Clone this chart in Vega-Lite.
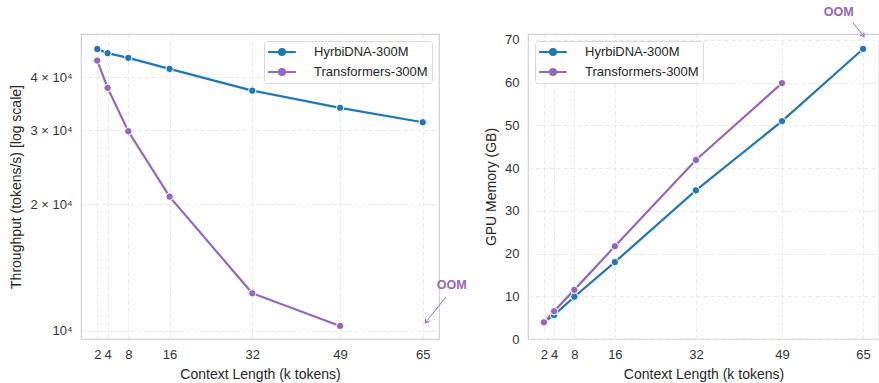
{
  "$schema": "https://vega.github.io/schema/vega-lite/v6.json",
  "background": "white",
  "padding": {"left": 9, "top": 5, "right": 0, "bottom": 4},
  "config": {
    "font": "Liberation Sans",
    "view": {"stroke": "#d0d0d0", "strokeWidth": 1.2},
    "axis": {
      "grid": true, "gridDash": [4, 3], "gridColor": "#e8e8e8", "gridWidth": 0.9,
      "ticks": false, "domain": false,
      "labelFontSize": 13, "labelColor": "#333333", "labelPadding": 9,
      "titleFontSize": 14, "titleFontWeight": "normal", "titleColor": "#262626", "titlePadding": 6
    },
    "legend": {
      "title": null, "offset": 7, "padding": 4, "strokeColor": "#d9d9d9", "fillColor": "white",
      "cornerRadius": 3, "labelFontSize": 13, "labelColor": "#262626", "rowPadding": 6,
      "labelOffset": 25, "symbolOffset": 7,
      "symbolType": "M-2.3,0H2.3M0.5,0A0.5,0.5,0,1,1,-0.5,0A0.5,0.5,0,1,1,0.5,0",
      "symbolSize": 144, "symbolStrokeWidth": 2
    }
  },
  "datasets": {
    "perf": [
      {"model": "HyrbiDNA-300M", "ctx": 2, "throughput": 46700, "memory": 4.0},
      {"model": "HyrbiDNA-300M", "ctx": 4, "throughput": 45660, "memory": 5.6},
      {"model": "HyrbiDNA-300M", "ctx": 8, "throughput": 44500, "memory": 9.9},
      {"model": "HyrbiDNA-300M", "ctx": 16, "throughput": 41900, "memory": 18.0},
      {"model": "HyrbiDNA-300M", "ctx": 32, "throughput": 37200, "memory": 34.8},
      {"model": "HyrbiDNA-300M", "ctx": 49, "throughput": 33870, "memory": 51.0},
      {"model": "HyrbiDNA-300M", "ctx": 65, "throughput": 31300, "memory": 67.9},
      {"model": "Transformers-300M", "ctx": 2, "throughput": 43850, "memory": 3.9},
      {"model": "Transformers-300M", "ctx": 4, "throughput": 37770, "memory": 6.5},
      {"model": "Transformers-300M", "ctx": 8, "throughput": 29800, "memory": 11.5},
      {"model": "Transformers-300M", "ctx": 16, "throughput": 20840, "memory": 21.7},
      {"model": "Transformers-300M", "ctx": 32, "throughput": 12290, "memory": 41.9},
      {"model": "Transformers-300M", "ctx": 49, "throughput": 10280, "memory": 59.9}
    ],
    "oomLeft": [{"label": "OOM", "ctx": 70.6, "throughput": 12863}],
    "arrowLeft": [
      {"ctx": 69.5, "throughput": 12043, "order": 0},
      {"ctx": 65.5, "throughput": 10464, "order": 1}
    ],
    "headLeft": [{"ctx": 65.5, "throughput": 10464}],
    "oomRight": [{"label": "OOM", "ctx": 60.2, "memory": 76.6}],
    "arrowRight": [
      {"ctx": 63.0, "memory": 74.0, "order": 0},
      {"ctx": 65.2, "memory": 70.8, "order": 1}
    ],
    "headRight": [{"ctx": 65.2, "memory": 70.8}]
  },
  "spacing": 89,
  "bounds": "flush",
  "resolve": {"legend": {"color": "independent"}},
  "hconcat": [
    {
      "width": 358, "height": 305,
      "layer": [
        {
          "data": {"name": "perf"},
          "mark": {"type": "line", "strokeWidth": 2.2},
          "encoding": {
            "x": {"field": "ctx", "type": "quantitative",
                  "scale": {"domain": [-1.15, 68.15], "nice": false, "zero": false},
                  "axis": {"values": [2, 4, 8, 16, 32, 49, 65], "title": "Context Length (k tokens)"}},
            "y": {"field": "throughput", "type": "quantitative",
                  "scale": {"type": "log", "domain": [9572, 50700], "nice": false},
                  "axis": {"values": [10000, 20000, 30000, 40000], "title": "Throughput (tokens/s) [log scale]",
                           "labelExpr": "datum.value == 10000 ? '10⁴' : format(datum.value / 10000, 'd') + ' × 10⁴'"}},
            "color": {"field": "model", "type": "nominal",
                      "scale": {"domain": ["HyrbiDNA-300M", "Transformers-300M"], "range": ["#1f77b4", "#9467bd"]},
                      "legend": {"orient": "top-right",
                                 "encode": {"symbols": {"update": {"shape": {"value": "M-2.3,0H2.3M0.5,0A0.5,0.5,0,1,1,-0.5,0A0.5,0.5,0,1,1,0.5,0"}, "stroke": {"scale": "color", "field": "value"}, "fill": {"scale": "color", "field": "value"}, "size": {"value": 144}, "strokeWidth": {"value": 2}, "opacity": {"value": 1}}}}}}
          }
        },
        {
          "data": {"name": "perf"},
          "mark": {"type": "point", "filled": true, "size": 55, "stroke": "white", "strokeWidth": 1, "opacity": 1},
          "encoding": {
            "x": {"field": "ctx", "type": "quantitative"},
            "y": {"field": "throughput", "type": "quantitative"},
            "color": {"field": "model", "type": "nominal"}
          }
        },
        {
          "data": {"name": "oomLeft"},
          "mark": {"type": "text", "color": "#9467bd", "fontWeight": "bold", "fontSize": 12.5},
          "encoding": {
            "x": {"field": "ctx", "type": "quantitative"},
            "y": {"field": "throughput", "type": "quantitative"},
            "text": {"field": "label"}
          }
        },
        {
          "data": {"name": "arrowLeft"},
          "mark": {"type": "line", "color": "#9467bd", "strokeWidth": 1},
          "encoding": {
            "x": {"field": "ctx", "type": "quantitative"},
            "y": {"field": "throughput", "type": "quantitative"},
            "order": {"field": "order"}
          }
        },
        {
          "data": {"name": "headLeft"},
          "mark": {"type": "point", "shape": "M-0.7,1L0,0L0.7,1", "filled": false, "stroke": "#9467bd", "strokeWidth": 1, "size": 50, "angle": 218, "opacity": 1},
          "encoding": {
            "x": {"field": "ctx", "type": "quantitative"},
            "y": {"field": "throughput", "type": "quantitative"}
          }
        }
      ]
    },
    {
      "width": 351, "height": 305,
      "layer": [
        {
          "data": {"name": "perf"},
          "mark": {"type": "line", "strokeWidth": 2.2},
          "encoding": {
            "x": {"field": "ctx", "type": "quantitative",
                  "scale": {"domain": [-1.15, 68.15], "nice": false, "zero": false},
                  "axis": {"values": [2, 4, 8, 16, 32, 49, 65], "title": "Context Length (k tokens)"}},
            "y": {"field": "memory", "type": "quantitative",
                  "scale": {"domain": [0, 71.4], "nice": false},
                  "axis": {"values": [0, 10, 20, 30, 40, 50, 60, 70], "title": "GPU Memory (GB)"}},
            "color": {"field": "model", "type": "nominal",
                      "scale": {"domain": ["HyrbiDNA-300M", "Transformers-300M"], "range": ["#1f77b4", "#9467bd"]},
                      "legend": {"orient": "top-left",
                                 "encode": {"symbols": {"update": {"shape": {"value": "M-2.3,0H2.3M0.5,0A0.5,0.5,0,1,1,-0.5,0A0.5,0.5,0,1,1,0.5,0"}, "stroke": {"scale": "color", "field": "value"}, "fill": {"scale": "color", "field": "value"}, "size": {"value": 144}, "strokeWidth": {"value": 2}, "opacity": {"value": 1}}}}}}
          }
        },
        {
          "data": {"name": "perf"},
          "mark": {"type": "point", "filled": true, "size": 55, "stroke": "white", "strokeWidth": 1, "opacity": 1},
          "encoding": {
            "x": {"field": "ctx", "type": "quantitative"},
            "y": {"field": "memory", "type": "quantitative"},
            "color": {"field": "model", "type": "nominal"}
          }
        },
        {
          "data": {"name": "oomRight"},
          "mark": {"type": "text", "color": "#9467bd", "fontWeight": "bold", "fontSize": 12.5},
          "encoding": {
            "x": {"field": "ctx", "type": "quantitative"},
            "y": {"field": "memory", "type": "quantitative"},
            "text": {"field": "label"}
          }
        },
        {
          "data": {"name": "arrowRight"},
          "mark": {"type": "line", "color": "#9467bd", "strokeWidth": 1},
          "encoding": {
            "x": {"field": "ctx", "type": "quantitative"},
            "y": {"field": "memory", "type": "quantitative"},
            "order": {"field": "order"}
          }
        },
        {
          "data": {"name": "headRight"},
          "mark": {"type": "point", "shape": "M-0.7,1L0,0L0.7,1", "filled": false, "stroke": "#9467bd", "strokeWidth": 1, "size": 50, "angle": 142, "opacity": 1},
          "encoding": {
            "x": {"field": "ctx", "type": "quantitative"},
            "y": {"field": "memory", "type": "quantitative"}
          }
        }
      ]
    }
  ]
}
